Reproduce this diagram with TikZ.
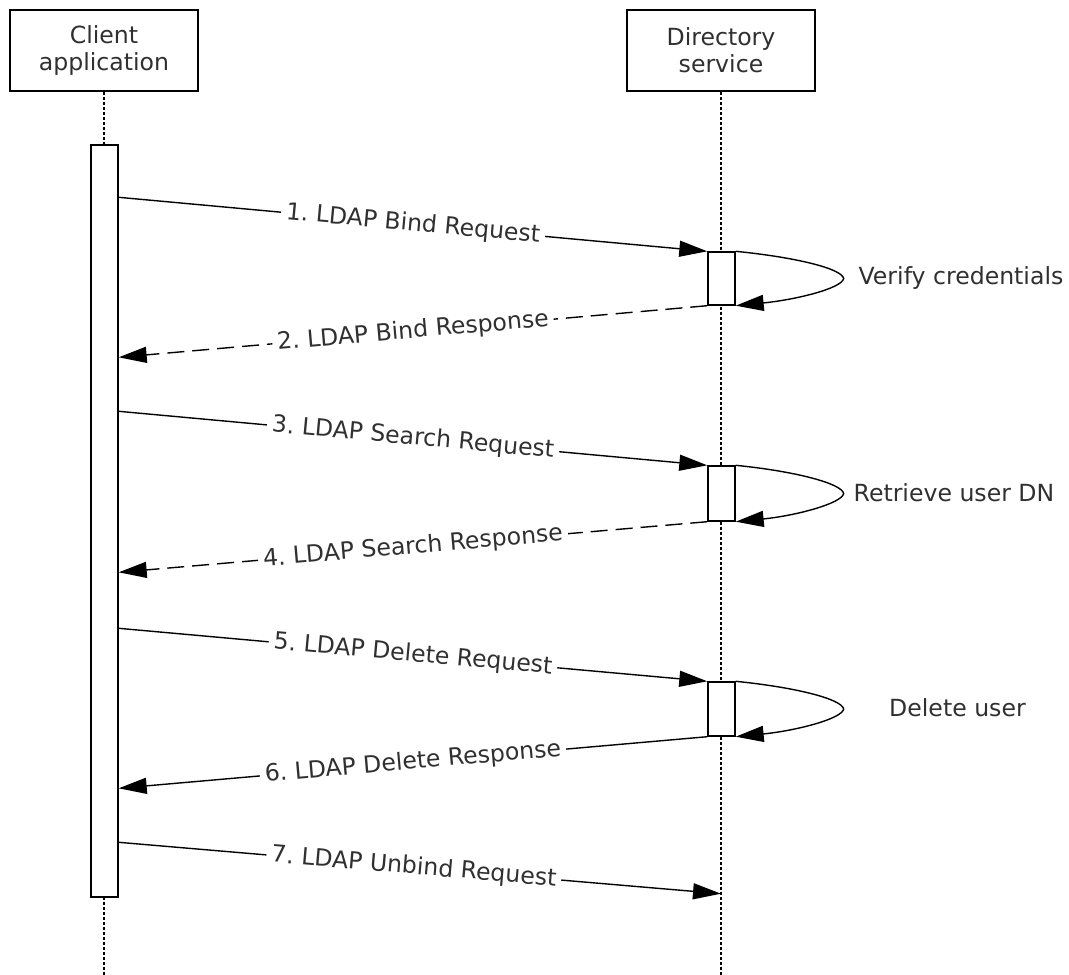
\documentclass[tikz,border=0pt]{standalone}
\usepackage{fontspec}
\setmainfont{DejaVu Sans}
\usetikzlibrary{arrows.meta}
\definecolor{txt}{HTML}{303030}
\frenchspacing
\begin{document}
\begin{tikzpicture}[x=1pt,y=-1pt,
  font=\fontsize{23.6}{27}\selectfont\frenchspacing, text=txt,
  actor/.style={draw=black, line width=1.4pt, minimum width=188pt, minimum height=81pt, align=center, inner sep=0pt, fill=white},
  bar/.style={draw=black, line width=1.4pt, minimum width=27pt, inner sep=0pt, fill=white},
  life/.style={line width=1.2pt, dash pattern=on 3pt off 2pt},
  msg/.style={line width=1.4pt, -{Triangle[length=28pt,width=16pt]}},
  reply/.style={msg, dash pattern=on 17pt off 8pt},
  lbl/.style={midway, sloped, fill=white, inner xsep=5pt, inner ysep=1pt},
  note/.style={inner sep=0pt}]
\useasboundingbox (0,0) rectangle (1069,975);
% actors
\node[actor] (cl) at (104,50.5) {Client\\application};
\node[actor] (ds) at (721,50.5) {Directory\\service};
\coordinate (clend) at (104,975);
\coordinate (dsend) at (721,975);
\draw[life] (cl.south) -- (clend);
\draw[life] (ds.south) -- (dsend);
% activation bars
\node[bar, minimum height=752pt] (cb) at (104.5,521) {};
\node[bar, minimum height=53pt] (d1) at (721.5,278.5) {};
\node[bar, minimum height=55pt] (d2) at (721.5,493.5) {};
\node[bar, minimum height=54pt] (d3) at (721.5,709) {};
% message end points on the client bar
\path (cb.north east) ++(0,53) coordinate (m1s);
\path (cb.north east) ++(0,213) coordinate (m2e);
\path (cb.north east) ++(0,267) coordinate (m3s);
\path (cb.north east) ++(0,428) coordinate (m4e);
\path (cb.north east) ++(0,484) coordinate (m5s);
\path (cb.north east) ++(0,644) coordinate (m6e);
\path (cb.north east) ++(0,698) coordinate (m7s);
\path (ds.south) ++(0,802) coordinate (m7e);
% messages
\draw[msg] (m1s) -- (d1.north west) node[lbl]{1. LDAP Bind Request};
\draw[reply] (d1.south west) -- (m2e) node[lbl]{2. LDAP Bind Response};
\draw[msg] (m3s) -- (d2.north west) node[lbl]{3. LDAP Search Request};
\draw[reply] (d2.south west) -- (m4e) node[lbl]{4. LDAP Search Response};
\draw[msg] (m5s) -- (d3.north west) node[lbl]{5. LDAP Delete Request};
\draw[msg] (d3.south west) -- (m6e) node[lbl]{6. LDAP Delete Response};
\draw[msg] (m7s) -- (m7e) node[lbl, pos=0.49]{7. LDAP Unbind Request};
% self loops
\draw[msg] (d1.north east) .. controls +(60,6) and +(-2,-10) .. ([xshift=108pt]d1.east) .. controls +(-2,10) and +(60,-6) .. (d1.south east);
\draw[msg] (d2.north east) .. controls +(60,6) and +(-2,-10) .. ([xshift=108pt]d2.east) .. controls +(-2,10) and +(60,-6) .. (d2.south east);
\draw[msg] (d3.north east) .. controls +(60,6) and +(-2,-10) .. ([xshift=108pt]d3.east) .. controls +(-2,10) and +(60,-6) .. (d3.south east);
% notes
\node[note] (t1) at (961,278) {Verify credentials};
\node[note] (t2) at (954,493) {Retrieve user DN};
\node[note] (t3) at (957.5,708) {Delete user};
\end{tikzpicture}
\end{document}
